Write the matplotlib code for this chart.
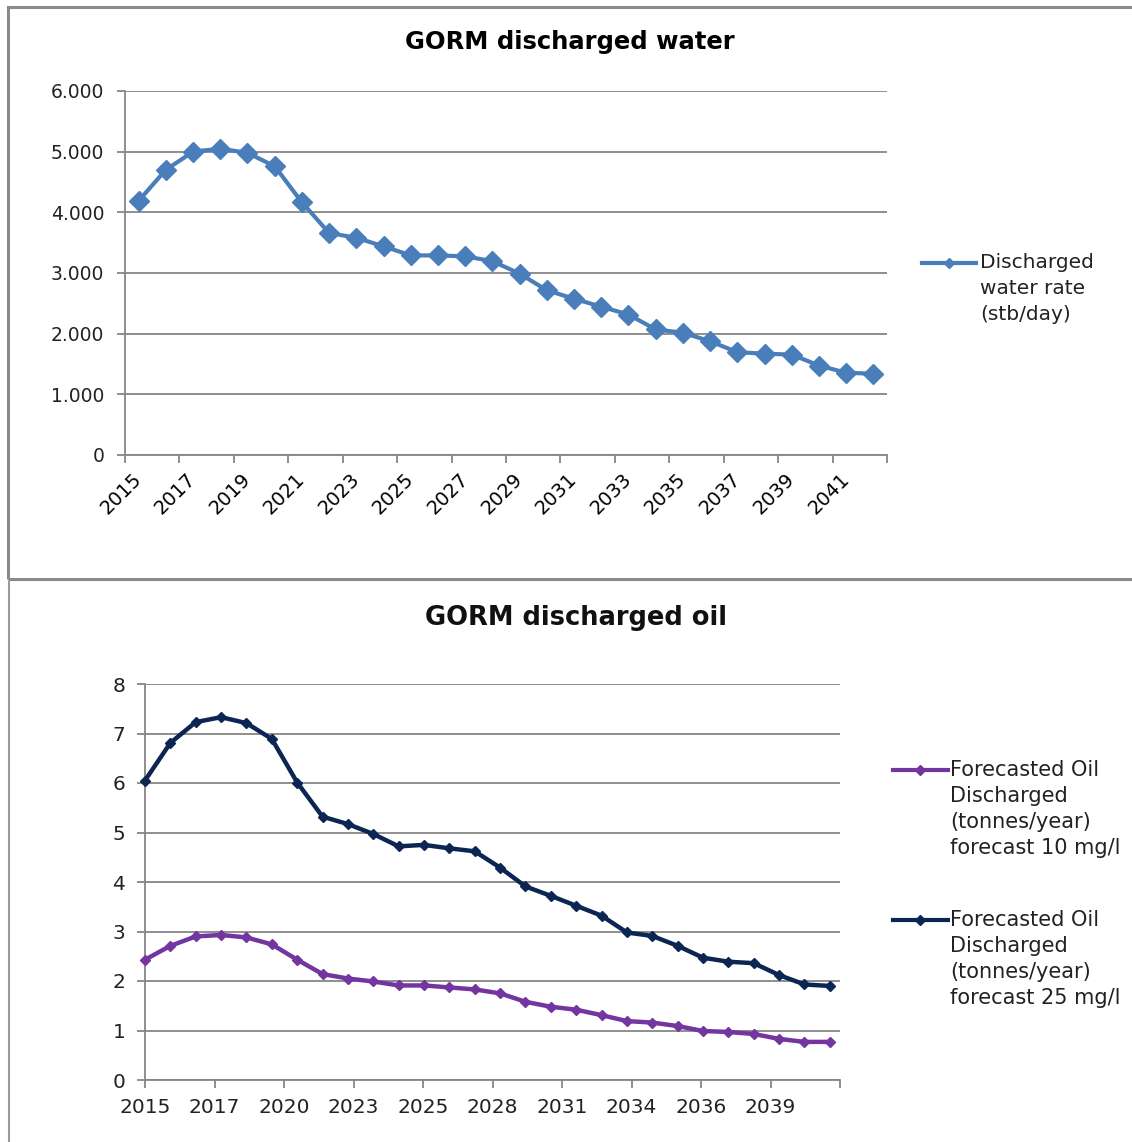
import numpy as np
import matplotlib
matplotlib.use("Agg")
import matplotlib.pyplot as plt
from matplotlib.lines import Line2D
from matplotlib.patches import Rectangle

# GORM discharged water / oil forecast, 2015-2042
years = list(range(2015, 2043))

water_rate = [4190, 4700, 5000, 5050, 4980, 4760, 4165, 3660, 3580, 3440,
              3290, 3290, 3275, 3195, 2990, 2715, 2575, 2445, 2315, 2070,
              2015, 1875, 1695, 1670, 1655, 1475, 1355, 1340]

oil_10mg = [2.43, 2.71, 2.90, 2.93, 2.88, 2.74, 2.43, 2.14, 2.05, 1.99,
            1.91, 1.91, 1.87, 1.83, 1.75, 1.58, 1.48, 1.42, 1.31, 1.19,
            1.16, 1.09, 0.99, 0.97, 0.93, 0.83, 0.77, 0.77]

oil_25mg = [6.05, 6.81, 7.23, 7.33, 7.21, 6.89, 6.01, 5.32, 5.17, 4.97,
            4.72, 4.75, 4.68, 4.62, 4.29, 3.91, 3.72, 3.52, 3.32, 2.98,
            2.91, 2.71, 2.47, 2.39, 2.36, 2.12, 1.93, 1.90]

water_yticks = [0, 1000, 2000, 3000, 4000, 5000, 6000]
water_ylabels = ["0", "1.000", "2.000", "3.000", "4.000", "5.000", "6.000"]
oil_tick_labels = ["2015", "2017", "2020", "2023", "2025", "2028",
                   "2031", "2034", "2036", "2039"]

W, H = 1132, 1142
GRID = "#868686"
BLUE = "#4a7ebb"
PURPLE = "#7336a0"
NAVY = "#0c2654"

plt.rcParams["font.family"] = ["DejaVu Sans"]
fig = plt.figure(figsize=(W / 100, H / 100), dpi=100)


def box(left, top, right, bottom):
    # pixel box -> figure fraction rect
    return [left / W, 1 - bottom / H, (right - left) / W, (bottom - top) / H]


def fx(px):
    return px / W


def fy(py):
    return 1 - py / H


def style_axes(ax):
    for s in ("top", "right"):
        ax.spines[s].set_visible(False)
    for s in ("left", "bottom"):
        ax.spines[s].set_color(GRID)
        ax.spines[s].set_linewidth(1.3)
    ax.yaxis.grid(True, color=GRID, linewidth=1.3)
    ax.set_axisbelow(True)
    ax.tick_params(colors=GRID, labelcolor="#222222", width=1.3)


# chart frames
fig.add_artist(Rectangle((fx(8), fy(579)), fx(1140 - 8), (579 - 7) / H,
                         transform=fig.transFigure, fill=False,
                         ec="#8a8a8a", lw=2.2))
fig.add_artist(Line2D([fx(9), fx(9)], [fy(582), fy(1150)],
                      transform=fig.transFigure, color="#9a9a9a", lw=1.5))

# ---- top chart: discharged water ----
ax1 = fig.add_axes(box(125, 91, 887, 455))
x1 = np.arange(len(years))
ax1.plot(x1, water_rate, color=BLUE, lw=3, marker="D", ms=10.5,
         markeredgecolor=BLUE, clip_on=False, zorder=3)
ax1.set_xlim(-0.5, len(years) - 0.5)
ax1.set_ylim(0, 6000)
style_axes(ax1)
ax1.set_yticks(water_yticks, labels=water_ylabels)
ax1.tick_params(axis="y", length=6, pad=9, labelsize=13.5)
ax1.set_xticks(np.arange(-0.5, len(years), 2), labels=[])
ax1.set_xticks(x1[::2], labels=[str(y) for y in years[::2]], minor=True)
ax1.tick_params(axis="x", which="major", length=6)
ax1.tick_params(axis="x", which="minor", length=0, pad=15, labelsize=14)
for lab in ax1.get_xticklabels(minor=True):
    lab.set_rotation(45)
    lab.set_ha("right")
    lab.set_va("center")
    lab.set_rotation_mode("anchor")

fig.text(fx(570), fy(42), "GORM discharged water", ha="center", va="center",
         fontsize=17.5, fontweight="bold")

fig.add_artist(Line2D([fx(922), fx(976)], [fy(263), fy(263)],
                      transform=fig.transFigure, color=BLUE, lw=3))
fig.add_artist(Line2D([fx(949)], [fy(263)], transform=fig.transFigure,
                      color=BLUE, marker="D", ms=5))
fig.text(fx(980), fy(263), "Discharged", ha="left", va="center", fontsize=14.5,
         color="#222222")
fig.text(fx(980), fy(289), "water rate", ha="left", va="center", fontsize=14.5,
         color="#222222")
fig.text(fx(980), fy(315), "(stb/day)", ha="left", va="center", fontsize=14.5,
         color="#222222")

# ---- bottom chart: discharged oil ----
ax2 = fig.add_axes(box(145, 684, 840, 1080))
ax2.plot(years, oil_10mg, color=PURPLE, lw=3.2, marker="D", ms=5.5,
         clip_on=False, zorder=3)
ax2.plot(years, oil_25mg, color=NAVY, lw=3.2, marker="D", ms=5.5,
         clip_on=False, zorder=3)
x_max = years[0] + 27.4
ax2.set_xlim(years[0], x_max)
ax2.set_ylim(0, 8)
style_axes(ax2)
ax2.set_yticks(range(0, 9))
ax2.tick_params(axis="y", length=6, pad=8, labelsize=14.5)
ax2.set_xticks(np.linspace(years[0], x_max, len(oil_tick_labels) + 1),
               labels=oil_tick_labels + [""])
ax2.tick_params(axis="x", length=6, pad=7, labelsize=14.5)

fig.text(fx(576), fy(618), "GORM discharged oil", ha="center", va="center",
         fontsize=18.5, fontweight="bold", color="#111111")

legend_items = [
    (PURPLE, 770, ["Forecasted Oil", "Discharged", "(tonnes/year)",
                   "forecast 10 mg/l"]),
    (NAVY, 920, ["Forecasted Oil", "Discharged", "(tonnes/year)",
                 "forecast 25 mg/l"]),
]
for color, ytop, lines in legend_items:
    fig.add_artist(Line2D([fx(893), fx(948)], [fy(ytop), fy(ytop)],
                          transform=fig.transFigure, color=color, lw=3))
    fig.add_artist(Line2D([fx(920)], [fy(ytop)], transform=fig.transFigure,
                          color=color, marker="D", ms=5))
    for i, line in enumerate(lines):
        fig.text(fx(950), fy(ytop + 26 * i), line, ha="left", va="center",
                 fontsize=15, color="#222222")

fig.savefig("out.png", dpi=100)
